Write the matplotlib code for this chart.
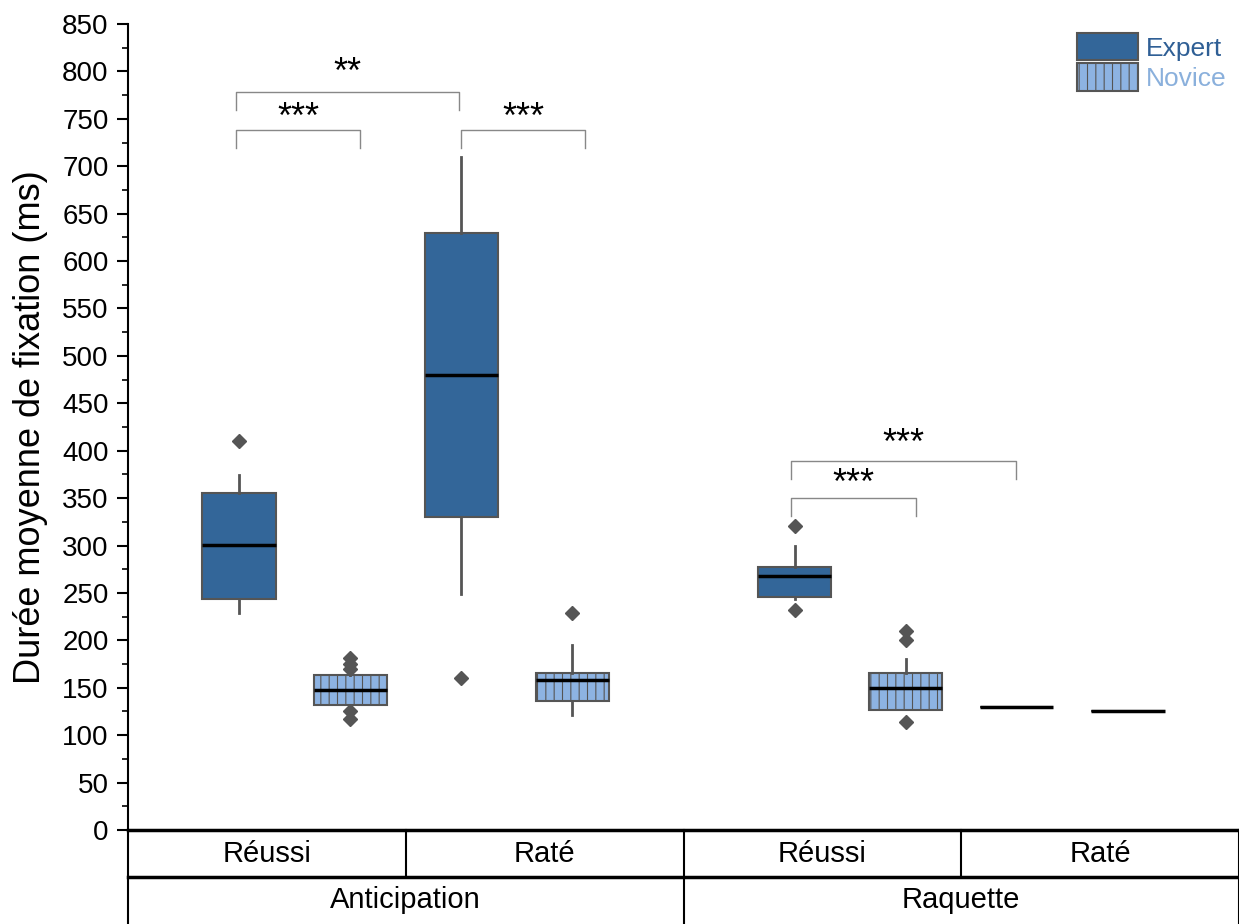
import numpy as np
import matplotlib
matplotlib.use("Agg")
import matplotlib.pyplot as plt
from matplotlib.patches import Patch
import matplotlib.transforms as mtrans

plt.rcParams['font.family'] = ['Liberation Sans', 'DejaVu Sans']
plt.rcParams['hatch.linewidth'] = 0.8

# ---- data ----
positions = [1, 2, 3, 4, 6, 7, 8, 9]
groups = ['Expert', 'Novice', 'Expert', 'Novice', 'Expert', 'Novice', 'Expert', 'Novice']
q1 = [244, 132, 330, 136, 246, 127, 130, 125]
med = [301, 148, 480, 158, 268, 150, 130, 125]
q3 = [355, 163, 630, 166, 277, 166, 130, 125]
whislo = [229, 130, 249, 121, 244, 127, 130, 125]
whishi = [374, 165, 710, 195, 299, 180, 130, 125]
fliers = [[410], [181, 175, 170, 125, 117], [160], [229], [321, 232], [210, 200, 114], [], []]

outcomes = ['Réussi', 'Raté', 'Réussi', 'Raté']
phases = ['Anticipation', 'Raquette']

# significance brackets: (x_left, x_right, y_bar, label, y_text)
brackets = [
    (0.97, 2.98, 778, '**', 798),
    (0.97, 2.09, 738, '***', 750),
    (3.00, 4.11, 738, '***', 750),
    (5.97, 7.99, 389, '***', 407),
    (5.97, 7.09, 350, '***', 364),
]

expert_color = '#336699'
novice_color = '#8db3e2'
edge = '#555555'

fig = plt.figure(figsize=(12.39, 9.24), dpi=100)
ax = fig.add_axes([128 / 1239, 1 - 830 / 924, 1 - 128 / 1239, 806 / 924])

stats = []
for i in range(len(positions)):
    stats.append(dict(med=med[i], q1=q1[i], q3=q3[i], whislo=whislo[i],
                      whishi=whishi[i], fliers=fliers[i]))

bp = ax.bxp(stats, positions=positions, widths=0.66, patch_artist=True,
            showcaps=False,
            boxprops=dict(edgecolor=edge, linewidth=1.5),
            whiskerprops=dict(color=edge, linewidth=2),
            medianprops=dict(color='black', linewidth=2.5),
            flierprops=dict(marker='D', markerfacecolor=edge, markeredgecolor=edge,
                            markersize=7))
for box, g in zip(bp['boxes'], groups):
    if g == 'Expert':
        box.set_facecolor(expert_color)
    else:
        box.set_facecolor(novice_color)
        box.set_hatch('||')

# brackets
for xl, xr, yb, lab, yt in brackets:
    ax.plot([xl, xl, xr, xr], [yb - 19, yb, yb, yb - 19], color='#888888', lw=1)
    ax.text((xl + xr) / 2, yt, lab, ha='center', va='center', fontsize=26)

ax.set_xlim(0, 10)
ax.set_ylim(0, 850)
ax.set_yticks(np.arange(0, 851, 50))
ax.set_yticks(np.arange(25, 850, 50), minor=True)
ax.tick_params(axis='y', which='major', length=8, width=1.5, labelsize=20, pad=6)
ax.tick_params(axis='y', which='minor', length=4, width=1.2)
ax.set_xticks([])
ax.spines['top'].set_visible(False)
ax.spines['right'].set_visible(False)
ax.spines['left'].set_linewidth(1.5)
ax.spines['bottom'].set_linewidth(2.5)
ax.set_ylabel('Durée moyenne de fixation (ms)', fontsize=26, labelpad=10)

# category table under the axis
tr = mtrans.blended_transform_factory(ax.transData, ax.transAxes)
r1 = -47 / 806
r2 = -94 / 806
ax.plot([0, 10], [r1, r1], transform=tr, color='black', lw=2.5, clip_on=False)
ax.plot([0, 0], [0, r2 - 0.01], transform=tr, color='black', lw=1.5, clip_on=False)
for xv in [2.5, 7.5]:
    ax.plot([xv, xv], [0, r1], transform=tr, color='black', lw=1.5, clip_on=False)
ax.plot([5, 5], [0, r2 - 0.01], transform=tr, color='black', lw=1.5, clip_on=False)
ax.plot([10, 10], [0, r2 - 0.01], transform=tr, color='black', lw=1.5, clip_on=False)
for i, lab in enumerate(outcomes):
    ax.text(1.25 + 2.5 * i, r1 / 2, lab, transform=tr, ha='center', va='center', fontsize=21)
for i, lab in enumerate(phases):
    ax.text(2.5 + 5 * i, (r1 + r2) / 2, lab, transform=tr, ha='center', va='center', fontsize=21)

handles = [Patch(facecolor=expert_color, edgecolor=edge, linewidth=1.5),
           Patch(facecolor=novice_color, edgecolor=edge, linewidth=1.5, hatch='||')]
ax.legend(handles, ['Expert', 'Novice'], loc='upper right', bbox_to_anchor=(1.003, 1.008),
          frameon=False, fontsize=19, handlelength=2.3, handleheight=1.2,
          labelspacing=0.1, handletextpad=0.3, borderaxespad=0.2,
          labelcolor=['#2f5f95', '#8ab0dc'])

fig.savefig('out.png', dpi=100)
